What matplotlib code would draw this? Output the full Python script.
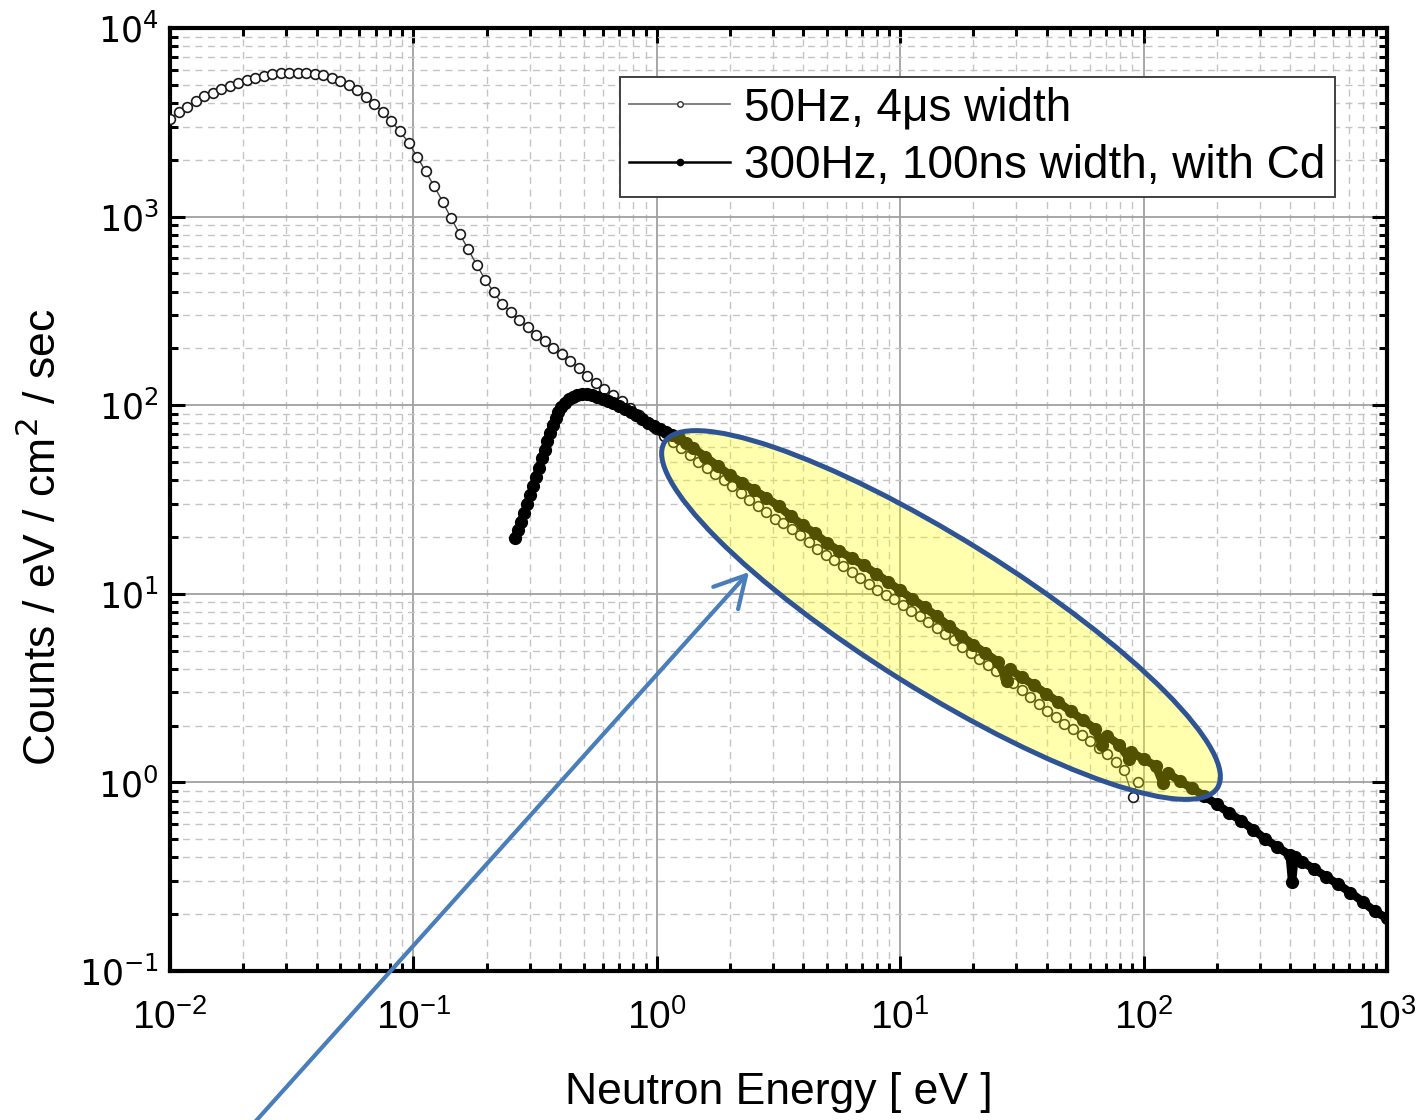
import numpy as np
import matplotlib
matplotlib.use('Agg')
from matplotlib import pyplot as plt
from matplotlib.ticker import LogLocator, FuncFormatter, NullFormatter
from matplotlib.patches import Ellipse, FancyArrowPatch
from matplotlib.lines import Line2D
from matplotlib.transforms import IdentityTransform

# values, stored as log10
log_e_open = [-2.000, -1.965, -1.930, -1.895, -1.860, -1.825, -1.790, -1.755, -1.720, -1.685,
              -1.650, -1.615, -1.580, -1.545, -1.510, -1.475, -1.440, -1.405, -1.370, -1.335,
              -1.300, -1.265, -1.230, -1.195, -1.160, -1.125, -1.090, -1.055, -1.020, -0.985,
              -0.950, -0.915, -0.880, -0.845, -0.810, -0.775, -0.740, -0.705, -0.670, -0.635,
              -0.600, -0.565, -0.530, -0.495, -0.460, -0.425, -0.390, -0.355, -0.320, -0.285,
              -0.250, -0.215, -0.180, -0.145, -0.110, -0.075, -0.040, -0.005, 0.030, 0.065,
              0.100, 0.135, 0.170, 0.205, 0.240, 0.275, 0.310, 0.345, 0.380, 0.415,
              0.450, 0.485, 0.520, 0.555, 0.590, 0.625, 0.660, 0.695, 0.730, 0.765,
              0.800, 0.835, 0.870, 0.905, 0.940, 0.975, 1.010, 1.045, 1.080, 1.115,
              1.150, 1.185, 1.220, 1.255, 1.290, 1.325, 1.360, 1.395, 1.430, 1.465,
              1.500, 1.535, 1.570, 1.605, 1.640, 1.675, 1.710, 1.745, 1.780, 1.815,
              1.850, 1.885, 1.920, 1.955, 1.975]
log_c_open = [3.520, 3.552, 3.582, 3.612, 3.638, 3.658, 3.676, 3.693, 3.708, 3.722,
              3.735, 3.746, 3.755, 3.760, 3.762, 3.763, 3.762, 3.758, 3.750, 3.736,
              3.718, 3.697, 3.670, 3.636, 3.598, 3.552, 3.505, 3.452, 3.392, 3.318,
              3.240, 3.162, 3.080, 2.990, 2.910, 2.826, 2.745, 2.665, 2.600, 2.537,
              2.494, 2.452, 2.415, 2.373, 2.343, 2.305, 2.270, 2.236, 2.195, 2.155,
              2.120, 2.087, 2.054, 2.022, 1.985, 1.950, 1.912, 1.872, 1.838, 1.805,
              1.772, 1.737, 1.700, 1.668, 1.635, 1.602, 1.570, 1.535, 1.499, 1.465,
              1.432, 1.399, 1.374, 1.345, 1.310, 1.275, 1.240, 1.208, 1.178, 1.148,
              1.115, 1.085, 1.052, 1.022, 0.996, 0.970, 0.940, 0.910, 0.880, 0.850,
              0.818, 0.786, 0.753, 0.720, 0.688, 0.655, 0.622, 0.592, 0.560, 0.529,
              0.490, 0.455, 0.415, 0.378, 0.345, 0.312, 0.282, 0.250, 0.218, 0.185,
              0.148, 0.107, 0.066, -0.077, 0.002]

log_e_cd = [-0.583, -0.570, -0.558, -0.545, -0.533, -0.520, -0.508, -0.496, -0.484, -0.472,
            -0.461, -0.450, -0.439, -0.428, -0.416, -0.404, -0.392, -0.378, -0.362, -0.345,
            -0.326, -0.306, -0.286, -0.265, -0.244, -0.222, -0.200, -0.178, -0.155, -0.132,
            -0.108, -0.084, -0.060, -0.036, -0.012, 0.012, 0.038, 0.064, 0.090, 0.120,
            0.150, 0.200, 0.250, 0.300, 0.350, 0.400, 0.450, 0.500, 0.550, 0.600,
            0.650, 0.700, 0.750, 0.800, 0.850, 0.900, 0.950, 1.000, 1.050, 1.100,
            1.150, 1.200, 1.250, 1.300, 1.350, 1.400, 1.440, 1.450, 1.500, 1.550,
            1.600, 1.650, 1.700, 1.750, 1.800, 1.828, 1.850, 1.900, 1.940, 1.950,
            2.000, 2.050, 2.078, 2.100, 2.150, 2.200, 2.250, 2.300, 2.350, 2.400,
            2.450, 2.500, 2.550, 2.600, 2.610, 2.620, 2.650, 2.700, 2.750, 2.800,
            2.850, 2.900, 2.950, 3.000]
log_c_cd = [1.296, 1.340, 1.382, 1.428, 1.475, 1.522, 1.570, 1.620, 1.668, 1.718,
            1.765, 1.812, 1.855, 1.893, 1.930, 1.962, 1.990, 2.014, 2.033, 2.045,
            2.053, 2.057, 2.057, 2.053, 2.045, 2.035, 2.024, 2.012, 1.997, 1.980,
            1.963, 1.946, 1.928, 1.908, 1.890, 1.875, 1.858, 1.842, 1.826, 1.800,
            1.773, 1.726, 1.678, 1.630, 1.589, 1.549, 1.510, 1.465, 1.412, 1.363,
            1.320, 1.268, 1.227, 1.189, 1.151, 1.107, 1.063, 1.018, 0.973, 0.928,
            0.881, 0.830, 0.778, 0.731, 0.686, 0.641, 0.540, 0.600, 0.557, 0.515,
            0.470, 0.425, 0.378, 0.331, 0.285, 0.200, 0.245, 0.200, 0.125, 0.160,
            0.123, 0.087, -0.003, 0.050, 0.005, -0.032, -0.073, -0.116, -0.160, -0.203,
            -0.250, -0.300, -0.343, -0.385, -0.528, -0.398, -0.420, -0.458, -0.500, -0.541,
            -0.584, -0.632, -0.684, -0.720]

labels = ['50Hz, 4\u03bcs width', '300Hz, 100ns width, with Cd']

energy_open = 10 ** np.array(log_e_open)
counts_open = 10 ** np.array(log_c_open)
energy_cd = 10 ** np.array(log_e_cd)
counts_cd = 10 ** np.array(log_c_cd)

W, H = 1424, 1120
fig = plt.figure(figsize=(W / 100, H / 100), dpi=100)
ax = fig.add_axes([170 / W, 149 / H, 1217 / W, 943 / H])

ax.plot(energy_open, counts_open, color='#444444', lw=1.0, marker='o', ms=7,
        mfc='white', mec='#1a1a1a', mew=1.2, zorder=3)
ax.plot(energy_cd, counts_cd, color='black', lw=6, marker='o', ms=8.5,
        mfc='black', mec='black', solid_joinstyle='round', zorder=4)

ax.set_xscale('log')
ax.set_yscale('log')
ax.set_xlim(1e-2, 1e3)
ax.set_ylim(1e-1, 1e4)

fmt = FuncFormatter(lambda v, p: r'$\mathregular{10^{%d}}$' % int(round(np.log10(v))))
for axis in (ax.xaxis, ax.yaxis):
    axis.set_major_locator(LogLocator(base=10, numticks=20))
    axis.set_minor_locator(LogLocator(base=10, subs=range(2, 10), numticks=100))
    axis.set_major_formatter(fmt)
    axis.set_minor_formatter(NullFormatter())

ax.grid(which='major', color='#a0a0a0', lw=1.3, ls='-')
ax.grid(which='minor', color='#c4c4c4', lw=1.0, ls=(0, (5, 4)))
ax.set_axisbelow(True)

for s in ax.spines.values():
    s.set_linewidth(3.0)

ax.tick_params(which='both', direction='in', top=True, right=True, width=2.2)
ax.tick_params(which='major', length=11)
ax.tick_params(which='minor', length=6)
ax.tick_params(axis='x', which='major', pad=20)
ax.tick_params(axis='y', which='major', pad=8)
for t in ax.get_xticklabels():
    t.set_family(['Liberation Sans Narrow', 'Liberation Sans'])
    t.set_fontsize(28)
for t in ax.get_yticklabels():
    t.set_family('DejaVu Sans')
    t.set_fontsize(25)

ax.set_xlabel('Neutron Energy [ eV ]', fontsize=32, family='Liberation Sans')
ax.set_ylabel('Counts / eV / cm$^2$ / sec', fontsize=32, family='Liberation Sans')
ax.xaxis.set_label_coords(0.5, -0.107)
ax.xaxis.label.set_va('top')
ax.yaxis.set_label_coords(-0.086, 0.460)

handles = [Line2D([], [], color='#777777', lw=1.3, marker='o', ms=4, mfc='white',
                  mec='#333333', mew=1.0),
           Line2D([], [], color='black', lw=1.8, marker='o', ms=4.5, mfc='black',
                  mec='black')]
leg = ax.legend(handles, labels, loc='upper left', bbox_to_anchor=(0.370, 0.948),
                prop={'family': 'Liberation Sans', 'size': 33},
                frameon=True, fancybox=False, framealpha=1, edgecolor='#404040',
                borderpad=0.2, labelspacing=0.3, handlelength=2.2, handletextpad=0.3,
                numpoints=1, borderaxespad=0)
leg.get_frame().set_linewidth(1.4)
leg.set_zorder(5)

# highlight ellipse and arrow, placed in figure pixels
ell = Ellipse((941, H - 615), width=652, height=152, angle=-32,
              transform=IdentityTransform(), facecolor=(1, 1, 0, 0.32),
              edgecolor='#2f5496', lw=3.6, zorder=10)
fig.add_artist(ell)
arr = FancyArrowPatch((255, -2), (749, H - 572), transform=IdentityTransform(),
                      arrowstyle='->,head_length=0.55,head_width=0.3', mutation_scale=40,
                      color='#4a7ebb', lw=3.0, zorder=11, shrinkA=0, shrinkB=0)
fig.add_artist(arr)

fig.savefig('out.png', dpi=100)
